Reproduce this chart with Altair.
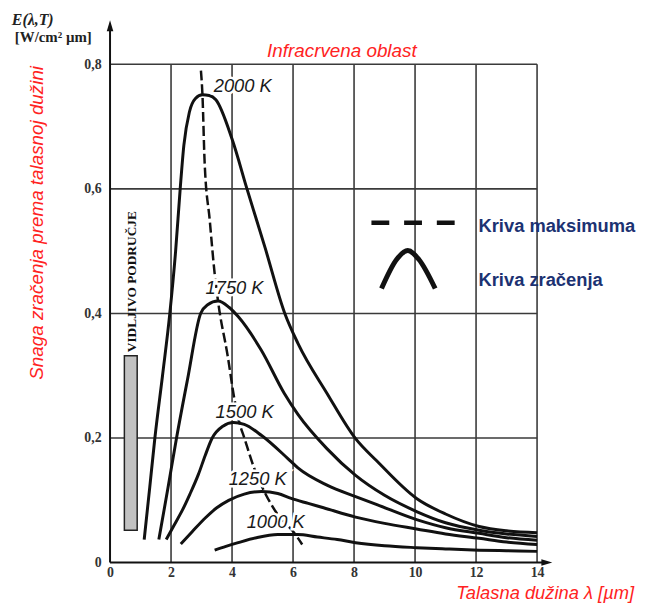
import altair as alt
import pandas as pd

# ---------------- data ----------------
temps = ["2000 K", "1750 K", "1500 K", "1250 K", "1000 K"]

lam_2000 = [1.12, 1.30, 1.47, 1.72, 1.96, 2.15, 2.30, 2.42, 2.60, 2.80, 3.03, 3.25, 3.47, 4.00, 4.49, 5.08, 5.73, 6.16, 7.11, 8.05, 8.75, 10.05, 11.0, 12.1, 13.0, 14.0]
E_2000 = [0.037, 0.12, 0.20, 0.30, 0.40, 0.50, 0.60, 0.67, 0.723, 0.745, 0.751, 0.750, 0.743, 0.68, 0.60, 0.506, 0.40, 0.352, 0.272, 0.199, 0.163, 0.103, 0.078, 0.058, 0.051, 0.048]

lam_1750 = [1.60, 1.90, 2.18, 2.54, 2.97, 3.20, 3.54, 3.90, 4.20, 4.96, 5.71, 6.16, 7.11, 8.05, 9.0, 10.05, 11.0, 12.1, 13.0, 14.0]
E_1750 = [0.037, 0.12, 0.20, 0.294, 0.40, 0.414, 0.42, 0.41, 0.395, 0.341, 0.272, 0.238, 0.183, 0.14, 0.108, 0.082, 0.064, 0.052, 0.046, 0.042]

lam_1500 = [1.84, 2.10, 2.38, 2.62, 2.90, 3.12, 3.35, 3.70, 4.05, 4.40, 4.97, 5.83, 6.16, 7.13, 8.05, 8.75, 10.05, 11.0, 12.1, 13.0, 14.0]
E_1500 = [0.037, 0.06, 0.085, 0.11, 0.142, 0.172, 0.20, 0.219, 0.225, 0.222, 0.204, 0.167, 0.152, 0.124, 0.106, 0.093, 0.069, 0.056, 0.047, 0.040, 0.036]

lam_1250 = [2.32, 2.70, 3.13, 3.50, 3.89, 4.40, 4.97, 5.50, 5.94, 6.50, 7.00, 8.05, 9.00, 10.05, 11.0, 12.1, 13.0, 14.0]
E_1250 = [0.030, 0.05, 0.072, 0.088, 0.10, 0.11, 0.114, 0.111, 0.103, 0.095, 0.088, 0.073, 0.063, 0.054, 0.046, 0.039, 0.033, 0.029]

lam_1000 = [3.43, 3.80, 4.20, 4.80, 5.50, 6.15, 6.80, 7.45, 8.05, 9.00, 10.05, 11.0, 12.1, 13.0, 14.0]
E_1000 = [0.020, 0.026, 0.032, 0.040, 0.045, 0.045, 0.041, 0.037, 0.032, 0.027, 0.024, 0.022, 0.020, 0.019, 0.018]

# curve of maxima (dashed)
lam_max = [2.98, 3.03, 3.10, 3.27, 3.43, 3.54, 3.86, 4.08, 4.24, 4.41, 4.73, 5.11, 5.43, 6.08, 6.30]
E_max = [0.79, 0.751, 0.644, 0.549, 0.464, 0.42, 0.331, 0.262, 0.225, 0.199, 0.151, 0.109, 0.082, 0.045, 0.029]

# curve labels (left anchor)
label_lam = [3.40, 3.13, 3.46, 3.89, 4.48]
label_E = [0.765, 0.441, 0.242, 0.134, 0.065]

x_ticks = [0, 2, 4, 6, 8, 10, 12, 14]
y_ticks = [0, 0.2, 0.4, 0.6, 0.8]
grid_x = [2, 4, 6, 8, 10, 12, 14]
grid_y = [0.2, 0.4, 0.6, 0.8]

# visible region band
vis_lam = [0.47, 0.89]
vis_E = [0.052, 0.332]

# ---------------- styles ----------------
SANS = "Liberation Sans"
SERIF = "Liberation Serif"
RED = "#ff2222"
NAVY = "#1c3272"
GRIDC = "#3a3a3a"

xscale = alt.Scale(domain=[0, 14.55], nice=False, zero=False)
yscale = alt.Scale(domain=[0, 0.87], nice=False, zero=False)
xaxis = alt.Axis(values=x_ticks, title=None, grid=False, domain=False, ticks=False,
                 labelFont=SERIF, labelFontWeight="bold", labelFontSize=14, labelColor="#333",
                 labelPadding=3, labelFlush=False, labelOverlap=False)
yaxis = alt.Axis(values=y_ticks, title=None, grid=False, domain=False, ticks=False,
                 labelFont=SERIF, labelFontWeight="bold", labelFontSize=14, labelColor="#333",
                 labelPadding=9, labelFlush=False, labelOverlap=False,
                 labelExpr="datum.value == 0 ? '0' : replace(format(datum.value, '.1f'), '.', ',')")


def X(f):
    return alt.X(f"{f}:Q", scale=xscale, axis=xaxis)


def Y(f):
    return alt.Y(f"{f}:Q", scale=yscale, axis=yaxis)


# ---------------- tables ----------------
curve_rows = []
for t, ls, es in zip(temps, [lam_2000, lam_1750, lam_1500, lam_1250, lam_1000],
                     [E_2000, E_1750, E_1500, E_1250, E_1000]):
    for i, (l, e) in enumerate(zip(ls, es)):
        curve_rows.append({"T": t, "i": i, "lam": l, "E": e})
curves = pd.DataFrame(curve_rows)
maxdf = pd.DataFrame({"i": range(len(lam_max)), "lam": lam_max, "E": E_max})
labels = pd.DataFrame({"lam": label_lam, "E": label_E, "text": temps})

vgrid = pd.DataFrame({"lam": grid_x, "y0": 0.0, "y1": 0.8})
hgrid = pd.DataFrame({"E": grid_y, "x0": 0.0, "x1": 14.0})

# axes with arrows
xline = pd.DataFrame({"x0": [0.0], "x1": [14.3], "E": [0.0]})
yline = pd.DataFrame({"lam": [0.0], "y0": [0.0], "y1": [0.856]})
xarrow = pd.DataFrame({"lam": [14.32], "E": [0.0]})
yarrow = pd.DataFrame({"lam": [0.0], "E": [0.862]})

visdf = pd.DataFrame({"x0": [vis_lam[0]], "x1": [vis_lam[1]], "y0": [vis_E[0]], "y1": [vis_E[1]]})

# legend symbols
leg_dash = pd.DataFrame({"lam": [8.57, 11.33], "E": [0.5455, 0.5455], "i": [0, 1]})
leg_arch = pd.DataFrame({"lam": [8.9, 9.4, 9.76, 10.12, 10.66],
                         "E": [0.440, 0.487, 0.501, 0.487, 0.440], "i": range(5)})

# annotation texts (data coordinates)
ann_legend = pd.DataFrame({"lam": [12.08, 12.08], "E": [0.541, 0.453],
                           "text": ["Kriva maksimuma", "Kriva zračenja"]})
ann_ir = pd.DataFrame({"lam": [7.6], "E": [0.822], "text": ["Infracrvena oblast"]})
ann_ytitle = pd.DataFrame({"lam": [-2.4], "E": [0.5455], "text": ["Snaga zračenja prema talasnoj dužini"]})
ann_xtitle = pd.DataFrame({"lam": [17.18], "E": [-0.049], "text": ["Talasna dužina λ [µm]"]})
ann_e1 = pd.DataFrame({"lam": [-3.22], "E": [0.8716], "text": ["E(λ,T)"]})
ann_e2 = pd.DataFrame({"lam": [-3.12], "E": [0.8437], "text": ["[W/cm² µm]"]})
ann_vis = pd.DataFrame({"lam": [0.72], "E": [0.451], "text": ["VIDLJIVO PODRUČJE"]})

# ---------------- layers ----------------
layers = []
layers.append(alt.Chart(vgrid).mark_rule(color=GRIDC, strokeWidth=1.6).encode(
    x=X("lam"), y=Y("y0"), y2="y1"))
layers.append(alt.Chart(hgrid).mark_rule(color=GRIDC, strokeWidth=1.6).encode(
    x=X("x0"), x2="x1", y=Y("E")))
layers.append(alt.Chart(xline).mark_rule(color="#111", strokeWidth=2).encode(
    x=X("x0"), x2="x1", y=Y("E")))
layers.append(alt.Chart(yline).mark_rule(color="#111", strokeWidth=2).encode(
    x=X("lam"), y=Y("y0"), y2="y1"))
layers.append(alt.Chart(xarrow).mark_point(shape="M1,0L-1,-0.6L-1,0.6Z", filled=True, size=121,
                                           color="#111", opacity=1).encode(x=X("lam"), y=Y("E")))
layers.append(alt.Chart(yarrow).mark_point(shape="M0,-1L0.6,1L-0.6,1Z", filled=True, size=121,
                                           color="#111", opacity=1).encode(x=X("lam"), y=Y("E")))
layers.append(alt.Chart(visdf).mark_rect(fill="#c2c2c2", stroke="#222", strokeWidth=1.5).encode(
    x=X("x0"), x2="x1", y=Y("y0"), y2="y1"))
layers.append(alt.Chart(ann_vis).mark_text(angle=270, font=SERIF, fontWeight="bold", fontSize=13.5,
                                           color="#111", align="center", baseline="middle").encode(
    x=X("lam"), y=Y("E"), text="text:N"))

layers.append(alt.Chart(curves).mark_line(color="#111", strokeWidth=3, interpolate="monotone").encode(
    x=X("lam"), y=Y("E"), detail="T:N", order="i:Q"))
layers.append(alt.Chart(maxdf).mark_line(color="#111", strokeWidth=2.5, strokeDash=[10, 4],
                                         interpolate="monotone").encode(
    x=X("lam"), y=Y("E"), order="i:Q"))

# curve labels with white halo
layers.append(alt.Chart(labels).mark_text(font=SANS, fontStyle="italic", fontSize=18.5, align="left",
                                          baseline="middle", color="white", stroke="white",
                                          strokeWidth=5).encode(x=X("lam"), y=Y("E"), text="text:N"))
layers.append(alt.Chart(labels).mark_text(font=SANS, fontStyle="italic", fontSize=18.5, align="left",
                                          baseline="middle", color="#1a1a1a").encode(
    x=X("lam"), y=Y("E"), text="text:N"))

# legend
layers.append(alt.Chart(leg_dash).mark_line(color="#111", strokeWidth=4.5, strokeDash=[18, 15]).encode(
    x=X("lam"), y=Y("E"), order="i:Q"))
layers.append(alt.Chart(leg_arch).mark_line(color="#111", strokeWidth=5, interpolate="monotone").encode(
    x=X("lam"), y=Y("E"), order="i:Q"))
layers.append(alt.Chart(ann_legend).mark_text(font=SANS, fontWeight="bold", fontSize=18.5, align="left",
                                              baseline="middle", color=NAVY).encode(
    x=X("lam"), y=Y("E"), text="text:N"))

# titles
layers.append(alt.Chart(ann_ir).mark_text(font=SANS, fontStyle="italic", fontSize=19, align="center",
                                          baseline="middle", color=RED).encode(
    x=X("lam"), y=Y("E"), text="text:N"))
layers.append(alt.Chart(ann_ytitle).mark_text(font=SANS, fontStyle="italic", fontSize=19, angle=270,
                                              align="center", baseline="middle", color=RED).encode(
    x=X("lam"), y=Y("E"), text="text:N"))
layers.append(alt.Chart(ann_xtitle).mark_text(font=SANS, fontStyle="italic", fontSize=18.5, align="right",
                                              baseline="middle", color=RED).encode(
    x=X("lam"), y=Y("E"), text="text:N"))
layers.append(alt.Chart(ann_e1).mark_text(font=SERIF, fontStyle="italic", fontWeight="bold", fontSize=16,
                                          align="left", baseline="middle", color="#222").encode(
    x=X("lam"), y=Y("E"), text="text:N"))
layers.append(alt.Chart(ann_e2).mark_text(font=SERIF, fontWeight="bold", fontSize=15,
                                          align="left", baseline="middle", color="#222").encode(
    x=X("lam"), y=Y("E"), text="text:N"))

chart = alt.layer(*layers).properties(
    width=448, height=547,
    padding={"left": 103, "top": 10, "right": 90, "bottom": 44},
    autosize=alt.AutoSizeParams(type="none"),
    background="white",
).configure_view(stroke=None)

chart.save("out.html", embed_options={"renderer": "svg", "actions": False})
